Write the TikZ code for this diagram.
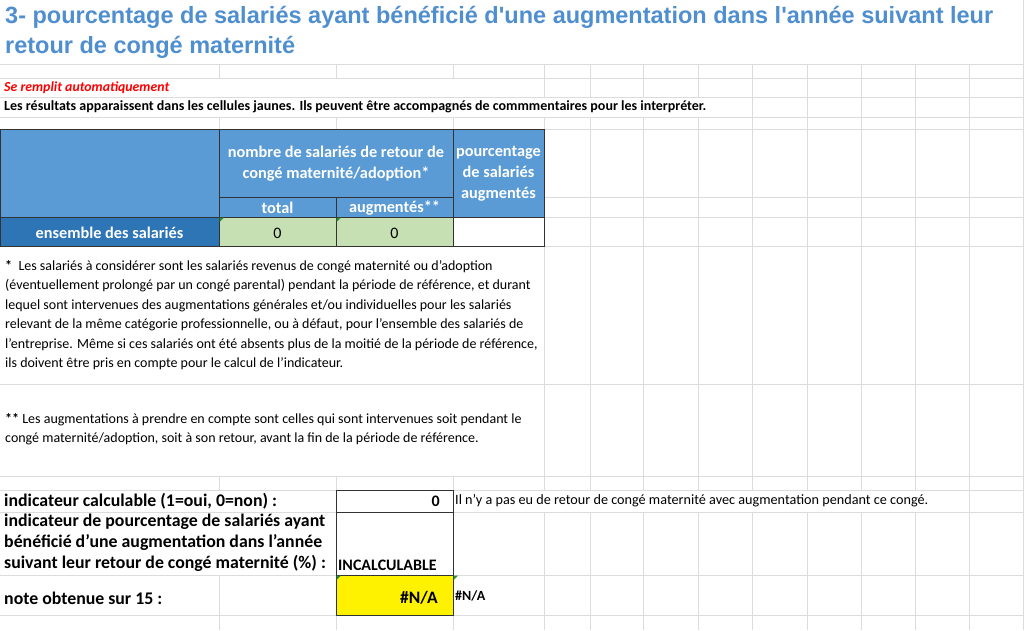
\documentclass[tikz,border=0pt]{standalone}
\usepackage{fontspec}
\setmainfont{Carlito}
\newfontfamily\titlefont{Liberation Sans}
\definecolor{hdrblue}{HTML}{5B9BD5}
\definecolor{rowblue}{HTML}{2E75B6}
\definecolor{cellgreen}{HTML}{C6E0B4}
\definecolor{gridgray}{HTML}{DCDCDC}
\definecolor{titleblue}{HTML}{4F8FCF}
\definecolor{markgreen}{HTML}{2E8B3A}
\begin{document}
\begin{tikzpicture}[x=1pt,y=-1pt,
  cellhdr/.style={font=\fontsize{16.3}{21}\selectfont\bfseries, text=white, align=center},
  body/.style={font=\fontsize{16}{19}\selectfont},
  note/.style={font=\fontsize{14}{19.5}\selectfont, anchor=north west, align=left, inner sep=0pt},
  lbl/.style={font=\fontsize{17.8}{21}\selectfont\bfseries, anchor=west, align=left, inner sep=0pt},
  greenmark/.style={fill=markgreen, draw=none}]
\useasboundingbox (0,0) rectangle (1024,630);
\fill[white] (0,0) rectangle (1024,630);
% grid
\foreach \y in {64,78,97,117,129,197,217,246,384,476,490,512,575,615}
  \draw[gridgray] (0,\y) -- (1024,\y);
\foreach \x in {219,336,453,544,590,643,698,752,807,861,915,969,1023}
  \draw[gridgray] (\x,64) -- (\x,630);
\draw[gridgray] (1023,0) -- (1023,64);
% merged / overflow areas
\fill[white] (0.5,78.5) rectangle (543.5,96.5);
\fill[white] (0.5,97.5) rectangle (725,116.5);
\fill[white] (0,246.5) rectangle (543.5,383.5);
\fill[white] (0,384.5) rectangle (543.5,475.5);
\fill[white] (0,490.5) rectangle (335.5,511.5);
\fill[white] (453.5,490.5) rectangle (935,511.5);
\fill[white] (0,512.5) rectangle (335.5,574.5);
\fill[white] (453.5,575.5) rectangle (543.5,614.5);
% title
\node[anchor=north west, inner sep=0pt, align=left, text=titleblue,
  font=\titlefont\fontsize{23.5}{30}\selectfont\bfseries] (title) at (5,6)
  {3- pourcentage de salariés ayant bénéficié d'une augmentation dans l'année suivant leur\\retour de congé maternité};
\node[anchor=west, inner sep=0pt, text=red, font=\fontsize{13.8}{15}\selectfont\bfseries\itshape] (auto) at (4,88) {Se remplit automatiquement};
\node[anchor=west, inner sep=0pt, font=\fontsize{14}{15}\selectfont\bfseries] (info) at (4,107)
  {Les résultats apparaissent dans les cellules jaunes. Ils peuvent être accompagnés de commmentaires pour les interpréter.};
% table
\fill[hdrblue] (0,129) rectangle (544,217);
\fill[rowblue] (0,217) rectangle (219,246);
\fill[cellgreen] (219,217) rectangle (453,246);
\draw[black!80] (0,129) rectangle (544,246);
\draw[black!80] (219,129) -- (219,246) (453,129) -- (453,246) (336,197) -- (336,246)
  (219,197) -- (453,197) (0,217) -- (544,217);
\node[cellhdr] (nombre) at (336,164) {nombre de salariés de retour de\\congé maternité/adoption*};
\node[cellhdr] (pct) at (498.5,174) {pourcentage\\de salariés\\augmentés};
\node[cellhdr] (total) at (277.5,208) {total};
\node[cellhdr] (augm) at (394.5,208) {augmentés**};
\node[cellhdr] (ens) at (109.5,233) {ensemble des salariés};
\node[body] (v1) at (277.5,233) {0};
\node[body] (v2) at (394.5,233) {0};
\fill[greenmark] (219.5,217.5) -- (224,217.5) -- (219.5,222) -- cycle;
\fill[greenmark] (336.5,217.5) -- (341,217.5) -- (336.5,222) -- cycle;
% notes
\node[note] (n1) at (5,260) {{\bfseries *}\ \ Les salariés à considérer sont les salariés revenus de congé maternité ou d’adoption\\(éventuellement prolongé par un congé parental) pendant la période de référence, et durant\\lequel sont intervenues des augmentations générales et/ou individuelles pour les salariés\\relevant de la même catégorie professionnelle, ou à défaut, pour l’ensemble des salariés de\\l’entreprise. Même si ces salariés ont été absents plus de la moitié de la période de référence,\\ils doivent être pris en compte pour le calcul de l'indicateur.};
\node[note] (n2) at (5,413) {{\bfseries **} Les augmentations à prendre en compte sont celles qui sont intervenues soit pendant le\\congé maternité/adoption, soit à son retour, avant la fin de la période de référence.};
% indicators
\draw[black!80] (336,490) rectangle (453,575);
\draw[black!80] (336,512) -- (453,512);
\fill[yellow] (336,575) rectangle (453,615);
\draw[black!80] (336,575) rectangle (453,615);
\fill[greenmark] (336.5,575.5) -- (341,575.5) -- (336.5,580) -- cycle;
\fill[greenmark] (453.5,575.5) -- (458,575.5) -- (453.5,580) -- cycle;
\node[lbl] (calc) at (4,501) {indicateur calculable (1=oui, 0=non) :};
\node[lbl, anchor=north west] (indic) at (4,514) {indicateur de pourcentage de salariés ayant\\bénéficié d'une augmentation dans l'année\\suivant leur retour de congé maternité (\%) :};
\node[lbl] (noteq) at (4,598) {note obtenue sur 15 :};
\node[anchor=east, inner sep=0pt, font=\fontsize{16}{16}\selectfont\bfseries] (calcv) at (440,501) {0};
\node[anchor=west, inner sep=0pt, font=\fontsize{14.2}{16}\selectfont] (calcc) at (455,501)
  {Il n'y a pas eu de retour de congé maternité avec augmentation pendant ce congé.};
\node[anchor=south west, inner sep=0pt, font=\fontsize{16}{16}\selectfont\bfseries] (incalc) at (338,571) {INCALCULABLE};
\node[anchor=east, inner sep=0pt, font=\fontsize{17.5}{16}\selectfont\bfseries] (na) at (438,598) {\#N/A};
\node[anchor=west, inner sep=0pt, font=\fontsize{14}{15}\selectfont\bfseries] (na2) at (455,596) {\#N/A};
\end{tikzpicture}
\end{document}
